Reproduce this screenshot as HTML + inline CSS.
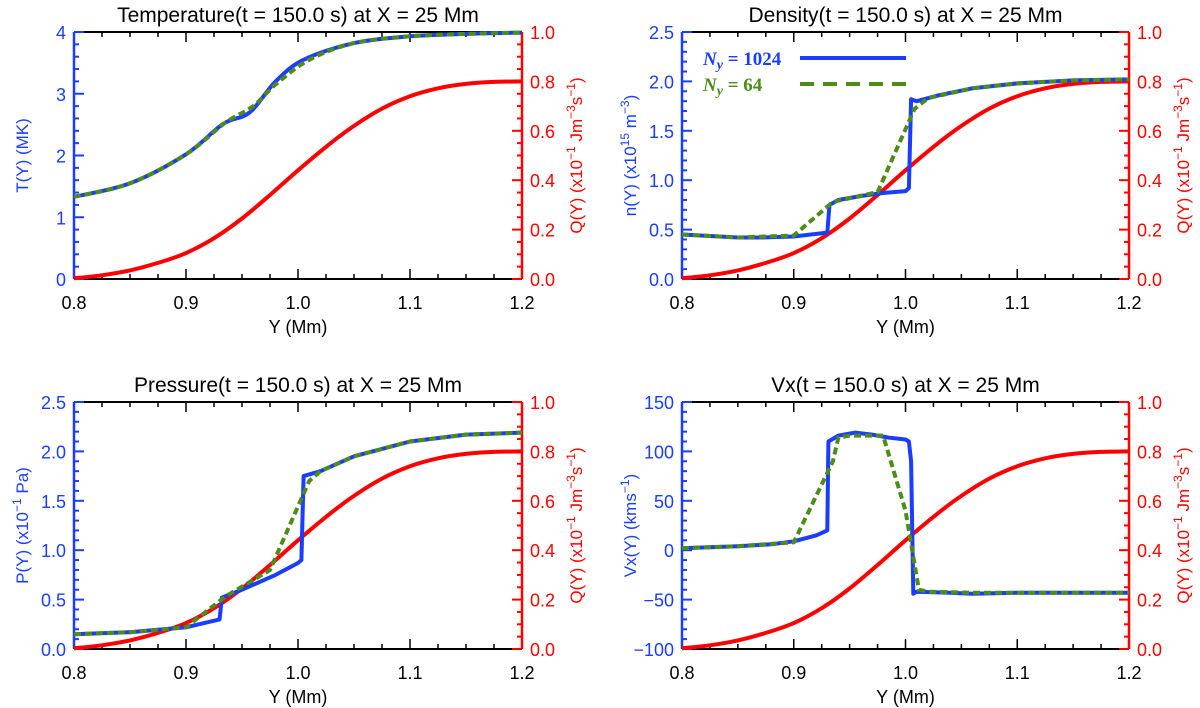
<!DOCTYPE html>
<html><head><meta charset="utf-8"><style>
html,body{margin:0;padding:0;background:#fff;}
svg{display:block;font-family:"Liberation Sans","DejaVu Sans",sans-serif;}
</style></head><body>
<svg id="fig" width="1200" height="708" viewBox="0 0 1200 708" xmlns="http://www.w3.org/2000/svg"></svg>
<script>
// Shared heating profile Q(Y)
const qY = [0.8,0.825,0.85,0.875,0.9,0.925,0.95,0.975,1.0,1.025,1.05,1.075,1.1,1.125,1.15,1.175,1.2];
const qVals = [0.003,0.015,0.035,0.065,0.105,0.165,0.245,0.34,0.44,0.535,0.62,0.69,0.74,0.772,0.79,0.798,0.80];

// Temperature
const tYHi = [0.8,0.85,0.9,0.933,0.957,0.98,1.005,1.05,1.1,1.15,1.2];
const tHi  = [1.33,1.55,2.02,2.51,2.70,3.2,3.55,3.82,3.93,3.97,3.99];
const tYLo = [0.8,0.85,0.9,0.935,0.96,0.98,1.01,1.05,1.1,1.15,1.2];
const tLo  = [1.33,1.55,2.02,2.53,2.8,3.15,3.55,3.82,3.93,3.97,3.99];

// Density
const nYHi = [0.8,0.85,0.87,0.9,0.93,0.932,0.94,0.96,0.98,1.0,1.003,1.005,1.01,1.03,1.06,1.1,1.15,1.2];
const nHi  = [0.45,0.42,0.42,0.43,0.47,0.75,0.8,0.84,0.87,0.89,0.92,1.82,1.8,1.86,1.93,1.98,2.01,2.02];
const nYLo = [0.8,0.85,0.9,0.935,0.975,1.008,1.02,1.06,1.1,1.15,1.2];
const nLo  = [0.45,0.42,0.44,0.78,0.88,1.72,1.83,1.93,1.98,2.01,2.02];

// Pressure
const pYHi = [0.8,0.85,0.9,0.93,0.932,0.95,0.98,1.0,1.003,1.005,1.02,1.05,1.1,1.15,1.2];
const pHi  = [0.15,0.17,0.22,0.3,0.52,0.6,0.75,0.87,0.9,1.75,1.8,1.95,2.1,2.17,2.19];
const pYLo = [0.8,0.85,0.9,0.935,0.975,1.01,1.02,1.05,1.1,1.15,1.2];
const pLo  = [0.15,0.17,0.22,0.53,0.8,1.7,1.8,1.95,2.1,2.17,2.19];

// Vx
const vYHi = [0.8,0.85,0.88,0.9,0.92,0.93,0.931,0.94,0.955,0.97,0.985,1.0,1.003,1.005,1.007,1.01,1.04,1.06,1.1,1.15,1.2];
const vHi  = [2,4,6,9,15,20,110,116,119,117,114,112,110,90,-44,-42,-43,-44,-43,-43,-43];
const vYLo = [0.8,0.85,0.9,0.935,0.94,0.95,0.98,1.0,1.012,1.02,1.06,1.1,1.15,1.2];
const vLo  = [2,4,8,90,114,116,116,40,-40,-42,-43,-43,-43,-43];

const xTicks = ["0.8","0.9","1.0","1.1","1.2"];
const qTicks = ["0.0","0.2","0.4","0.6","0.8","1.0"];

const svg = document.getElementById('fig');
const NS = 'http://www.w3.org/2000/svg';
const BLUE = '#1a3dff', GREEN = '#4d8c17', RED = '#ff0000';
function mk(tag, attrs, parent){const e=document.createElementNS(NS,tag);for(const k in attrs)e.setAttribute(k,attrs[k]);(parent||svg).appendChild(e);return e;}

const panels = [
 {name:'temperature', box:[74,32,522,279], title:'Temperature(t = 150.0 s) at X = 25 Mm', ymin:0,ymax:4,major:1,minor:0.2,fmt:v=>v.toFixed(0),
  ytitle:'T(Y)  (MK)', hi:[tYHi,tHi], lo:[tYLo,tLo], smooth:true},
 {name:'density', box:[682,32,1129,279], title:'Density(t = 150.0 s) at X = 25 Mm', ymin:0,ymax:2.5,major:0.5,minor:0.1,fmt:v=>v.toFixed(1),
  ytitle:'n(Y)  (x10<tspan baseline-shift="super" font-size="12">15</tspan> m<tspan baseline-shift="super" font-size="12">−3</tspan>)', hi:[nYHi,nHi], lo:[nYLo,nLo], legend:true},
 {name:'pressure', box:[74,402,522,649], title:'Pressure(t = 150.0 s) at X = 25 Mm', ymin:0,ymax:2.5,major:0.5,minor:0.1,fmt:v=>v.toFixed(1),
  ytitle:'P(Y)  (x10<tspan baseline-shift="super" font-size="12">−1</tspan> Pa)', hi:[pYHi,pHi], lo:[pYLo,pLo]},
 {name:'vx', box:[682,402,1129,649], title:'Vx(t = 150.0 s) at X = 25 Mm', ymin:-100,ymax:150,major:50,minor:10,fmt:v=>(v<0?'−':'')+Math.abs(v).toFixed(0),
  ytitle:'Vx(Y)  (kms<tspan baseline-shift="super" font-size="12">−1</tspan>)', hi:[vYHi,vHi], lo:[vYLo,vLo]}
];

function linePath(pts){return pts.map((p,i)=>(i?'L':'M')+p[0].toFixed(1)+','+p[1].toFixed(1)).join('');}
function smoothPath(pts){
  let d='M'+pts[0][0].toFixed(1)+','+pts[0][1].toFixed(1);
  for(let i=0;i<pts.length-1;i++){
    const p0=pts[Math.max(0,i-1)],p1=pts[i],p2=pts[i+1],p3=pts[Math.min(pts.length-1,i+2)];
    const c1=[p1[0]+(p2[0]-p0[0])/6,p1[1]+(p2[1]-p0[1])/6];
    const c2=[p2[0]-(p3[0]-p1[0])/6,p2[1]-(p3[1]-p1[1])/6];
    d+=`C${c1[0].toFixed(1)},${c1[1].toFixed(1)} ${c2[0].toFixed(1)},${c2[1].toFixed(1)} ${p2[0].toFixed(1)},${p2[1].toFixed(1)}`;
  }
  return d;
}

panels.forEach((p,pi)=>{
  const [L,T,R,B]=p.box;
  const g = mk('g',{});
  
  
  const sx = y => L + (y-0.8)/0.4*(R-L);
  const sy = v => B - (v-p.ymin)/(p.ymax-p.ymin)*(B-T);
  const sq = v => B - v*(B-T);
  const cid='clip'+pi;
  const cp=mk('clipPath',{id:cid},g); mk('rect',{x:L,y:T-3,width:R-L,height:B-T+6},cp);

  const title = mk('text',{x:(L+R)/2,y:T-10,'text-anchor':'middle','font-size':21,fill:'#000','xml:space':'preserve'},g);
  title.textContent=p.title;
  
  

  for(let i=0;i<=16;i++){
    const x=L+i*(R-L)/16; const len=(i%4===0)?10:5;
    mk('line',{x1:x,y1:B,x2:x,y2:B-len,stroke:'#000','stroke-width':1.5},g);
    mk('line',{x1:x,y1:T,x2:x,y2:T+len,stroke:'#000','stroke-width':1.5},g);
  }
  xTicks.forEach((t,i)=>{
    const e=mk('text',{x:sx(0.8+i*0.1),y:B+30,'text-anchor':'middle','font-size':18,fill:'#000'},g);
    e.textContent=t;
    
    
  });
  const xt=mk('text',{x:(L+R)/2,y:B+54,'text-anchor':'middle','font-size':18,fill:'#000'},g);
  xt.textContent='Y (Mm)';
  
  
  mk('line',{x1:L,y1:T,x2:R,y2:T,stroke:'#000','stroke-width':2},g);
  mk('line',{x1:L,y1:B,x2:R,y2:B,stroke:'#000','stroke-width':2},g);

  const nMin=Math.round((p.ymax-p.ymin)/p.minor);
  for(let i=0;i<=nMin;i++){
    const v=p.ymin+i*p.minor; const y=sy(v);
    const isMaj=Math.abs(v/p.major-Math.round(v/p.major))<1e-6;
    mk('line',{x1:L,y1:y,x2:L+(isMaj?10:5),y2:y,stroke:BLUE,'stroke-width':2},g);
    if(isMaj){
      const e=mk('text',{x:L-8,y:y+7,'text-anchor':'end','font-size':18,fill:BLUE},g);
      e.textContent=p.fmt(v);
      
      
    }
  }
  mk('line',{x1:L,y1:T,x2:L,y2:B,stroke:BLUE,'stroke-width':2.5},g);
  const lt=mk('text',{transform:`translate(${L-46},${(T+B)/2}) rotate(-90)`,'text-anchor':'middle','font-size':17,fill:BLUE,'xml:space':'preserve'},g);
  lt.innerHTML=p.ytitle;
  
  

  for(let i=0;i<=20;i++){
    const v=i*0.05; const y=sq(v); const isMaj=i%4===0;
    mk('line',{x1:R,y1:y,x2:R-(isMaj?10:5),y2:y,stroke:RED,'stroke-width':2},g);
  }
  qTicks.forEach((t,i)=>{
    const e=mk('text',{x:R+8,y:sq(i*0.2)+7,'text-anchor':'start','font-size':18,fill:RED},g);
    e.textContent=t;
    
    
  });
  mk('line',{x1:R,y1:T,x2:R,y2:B,stroke:RED,'stroke-width':2.5},g);
  const rt=mk('text',{transform:`translate(${R+60},${(T+B)/2}) rotate(-90)`,'text-anchor':'middle','font-size':17,fill:RED,'xml:space':'preserve'},g);
  rt.innerHTML='Q(Y)  (x10<tspan baseline-shift="super" font-size="12">−1</tspan> Jm<tspan baseline-shift="super" font-size="12">−3</tspan>s<tspan baseline-shift="super" font-size="12">−1</tspan>)';
  
  

  const pts=(xs,ys,f)=>xs.map((x,i)=>[sx(x),f(ys[i])]);
  const red=mk('path',{d:smoothPath(pts(qY,qVals,sq)),fill:'none',stroke:RED,'stroke-width':4,'clip-path':`url(#${cid})`},g);
  
  
  const draw = p.smooth ? smoothPath : linePath;
  const bl=mk('path',{d:draw(pts(p.hi[0],p.hi[1],sy)),fill:'none',stroke:BLUE,'stroke-width':4,'stroke-linejoin':'round','clip-path':`url(#${cid})`},g);
  
  
  const gr=mk('path',{d:draw(pts(p.lo[0],p.lo[1],sy)),fill:'none',stroke:GREEN,'stroke-width':4,'stroke-dasharray':'7,4','clip-path':`url(#${cid})`},g);
  
  

  if(p.legend){
    const lg=mk('g',{},g);
    
    
    const t1=mk('text',{x:703,y:65,'font-size':19,'font-weight':'bold','font-family':'Liberation Serif,serif',fill:BLUE},lg);
    t1.innerHTML='<tspan font-style="italic">N</tspan><tspan font-style="italic" dy="4" font-size="14">y</tspan><tspan dy="-4"> = 1024</tspan>';
    
    
    mk('line',{x1:800,y1:58,x2:906,y2:58,stroke:BLUE,'stroke-width':4},lg);
    const t2=mk('text',{x:703,y:91,'font-size':19,'font-weight':'bold','font-family':'Liberation Serif,serif',fill:GREEN},lg);
    t2.innerHTML='<tspan font-style="italic">N</tspan><tspan font-style="italic" dy="4" font-size="14">y</tspan><tspan dy="-4"> = 64</tspan>';
    
    
    mk('line',{x1:800,y1:84,x2:906,y2:84,stroke:GREEN,'stroke-width':4,'stroke-dasharray':'14,9'},lg);
  }
});
</script>
</body></html>
